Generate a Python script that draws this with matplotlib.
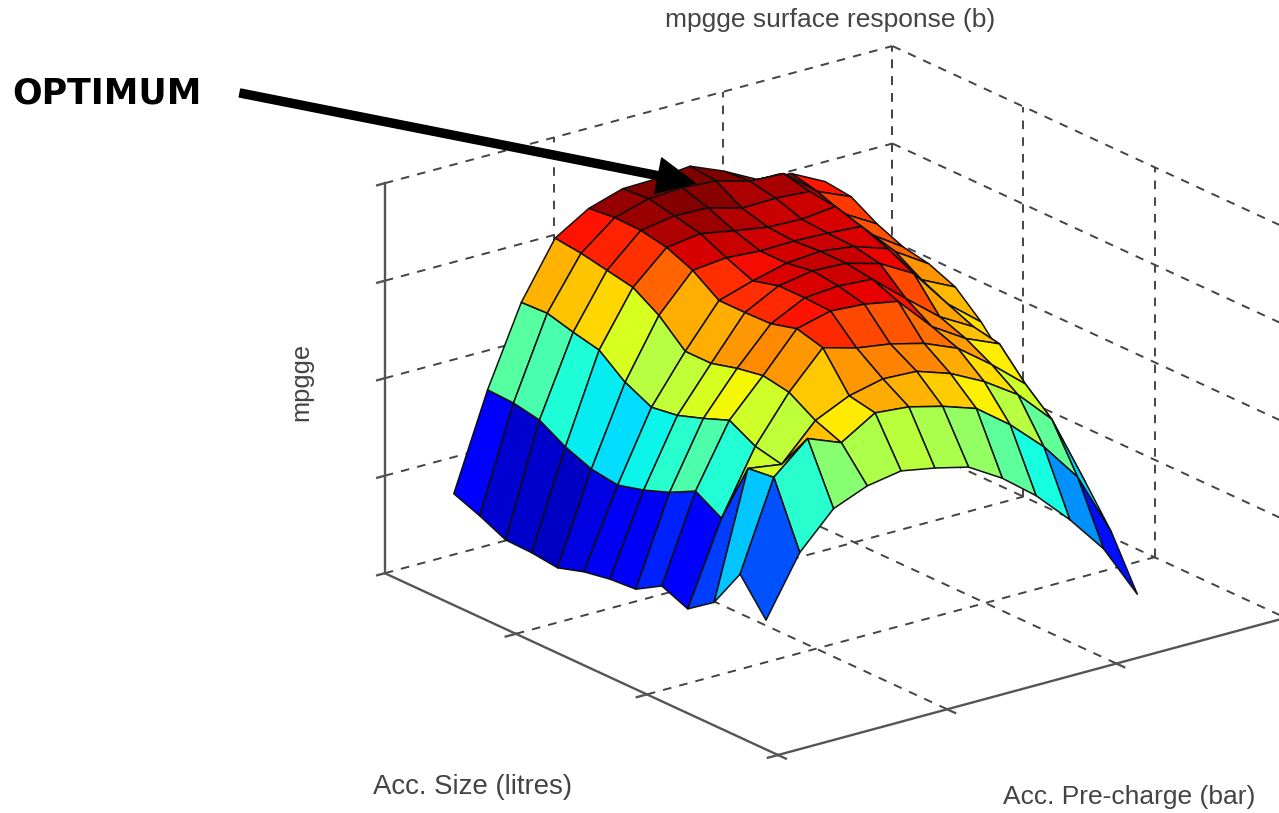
#! /usr/bin/env python

import numpy as np
import matplotlib
matplotlib.use('Agg')
import matplotlib.pyplot as plt
from mpl_toolkits.mplot3d import proj3d

# axis positions of the surface grid, in normalised axis units
preCharge = [0.05, 0.1165, 0.183, 0.2495, 0.316, 0.3825, 0.449, 0.5155, 0.582, 0.6485, 0.715, 0.7815]
accSize = [0.095, 0.161, 0.227, 0.294, 0.36, 0.426, 0.492, 0.558, 0.625, 0.691, 0.757, 0.823, 0.889]

# mpgge, one row per pre-charge value, one column per size value
mpgge0 = [.284, .371, .268, .220, .248, .209, .204, .192, .171, .179, .181, .212, .238]
mpgge1 = [.434, .596, .588, .429, .468, .434, .409, .391, .401, .427, .465, .478, .481]
mpgge2 = [.523, .672, .575, .590, .626, .600, .577, .567, .600, .652, .667, .685, .682]
mpgge3 = [.558, .638, .664, .705, .717, .705, .687, .687, .748, .789, .802, .815, .823]
mpgge4 = [.573, .691, .704, .796, .814, .796, .794, .794, .840, .868, .881, .883, .876]
mpgge5 = [.557, .683, .724, .772, .836, .839, .839, .821, .849, .880, .895, .908, .903]
mpgge6 = [.536, .661, .720, .759, .830, .846, .854, .843, .843, .864, .892, .913, .905]
mpgge7 = [.484, .632, .691, .737, .814, .840, .850, .850, .845, .850, .868, .907, .914]
mpgge8 = [.416, .567, .647, .701, .726, .767, .826, .839, .842, .847, .870, .883, .878]
mpgge9 = [.331, .487, .590, .636, .672, .697, .777, .810, .836, .856, .864, .879, .833]
mpgge10 = [.233, .386, .504, .563, .635, .648, .676, .707, .748, .763, .784, .810, .825]
mpgge11 = [.093, .222, .319, .391, .463, .529, .606, .665, .693, .706, .734, .773, .781]

xTicks = [0., 1/3., 2/3., 1.]
yTicks = [0., 1/3., 2/3., 1.]
zTicks = [0., .25, .5, .75, 1.]

Z = np.array([mpgge0, mpgge1, mpgge2, mpgge3, mpgge4, mpgge5, mpgge6, mpgge7, mpgge8, mpgge9, mpgge10, mpgge11])
X, Y = np.meshgrid(preCharge, accSize, indexing = 'ij')

W, H = 1279, 813
fig = plt.figure(figsize = (W/100., H/100.), dpi = 100)
ax = fig.add_axes([0, 0, 1, 1], projection = '3d', computed_zorder = False)
ax.set_proj_type('ortho')
ax.view_init(elev = 20.7, azim = -127.4)
ax.set_xlim(0, 1)
ax.set_ylim(0, 1)
ax.set_zlim(0, 1)
ax.set_axis_off()
ax.patch.set_alpha(0)

def cornerPx(x, y, z):
    px, py, _ = proj3d.proj_transform(x, y, z, ax.get_proj())
    return ax.transData.transform((px, py))

# fit the box on the picture: vertical edge 390 px, front corner at 778,755
aspect = (0.987, 1, 0.644)
ax.set_box_aspect(aspect)
ax.apply_aspect()
scale = 390./(cornerPx(0, 1, 1)[1]-cornerPx(0, 1, 0)[1])
ax.set_box_aspect(aspect, zoom = scale)
ax.apply_aspect()
front = cornerPx(0, 0, 0)
ax.set_position([(778-front[0])/W, (H-755-front[1])/H, 1, 1])
ax.apply_aspect()

gridStyle = dict(color = '#444444', linestyle = (0, (4.4, 4.2)), linewidth = 1.4, zorder = 1, clip_on = False)
axisStyle = dict(color = '#555555', linewidth = 1.7, zorder = 1.5, clip_on = False)

for t in xTicks[1:]:
    ax.plot([t, t], [0, 1], [0, 0], **gridStyle)
    ax.plot([t, t], [1, 1], [0, 1], **gridStyle)
for t in yTicks[1:]:
    ax.plot([0, 1], [t, t], [0, 0], **gridStyle)
    ax.plot([1, 1], [t, t], [0, 1], **gridStyle)
for t in zTicks[1:]:
    ax.plot([0, 1], [1, 1], [t, t], **gridStyle)
    ax.plot([1, 1], [0, 1], [t, t], **gridStyle)

ax.plot([0, 1], [0, 0], [0, 0], **axisStyle)
ax.plot([0, 0], [0, 1], [0, 0], **axisStyle)
ax.plot([0, 0], [1, 1], [0, 1], **axisStyle)
for t in zTicks:
    ax.plot([-0.015, 0], [1, 1], [t, t], **axisStyle)
for t in xTicks[:-1]:
    ax.plot([t, t], [-0.02, 0], [0, 0], **axisStyle)
for t in yTicks[:-1]:
    ax.plot([-0.02, 0], [t, t], [0, 0], **axisStyle)

colors = plt.get_cmap('jet')((Z-.125)/(.90-.125))
surf = ax.plot_surface(X, Y, Z, rstride = 1, cstride = 1, facecolors = colors, shade = False,
                       edgecolor = '#101010', linewidth = 1.1, zorder = 2)
surf.set_clip_on(False)

# annotations in picture pixels
over = fig.add_axes([0, 0, 1, 1])
over.set_xlim(0, W)
over.set_ylim(H, 0)
over.set_axis_off()
over.patch.set_alpha(0)
sans = ['Liberation Sans', 'DejaVu Sans']
over.text(830, 20, 'mpgge surface response (b)', family = sans, fontsize = 19, color = '#444444', ha = 'center', va = 'center')
over.text(301, 382, 'mpgge', family = sans, fontsize = 18.4, color = '#444444', ha = 'center', va = 'center', rotation = 90)
over.text(473, 787, 'Acc. Size (litres)', family = sans, fontsize = 19.9, color = '#444444', ha = 'center', va = 'center')
over.text(1129, 797, 'Acc. Pre-charge (bar)', family = sans, fontsize = 19, color = '#444444', ha = 'center', va = 'center')
over.text(107, 93, 'OPTIMUM', family = 'DejaVu Sans', fontweight = 'bold', fontsize = 25, color = 'black', ha = 'center', va = 'center')
over.annotate('', xy = (695, 183), xytext = (240, 93),
              arrowprops = dict(width = 5.8, headwidth = 26, headlength = 27, facecolor = 'black', edgecolor = 'black', shrink = 0))

fig.savefig('out.png', dpi = 100, facecolor = 'white')
